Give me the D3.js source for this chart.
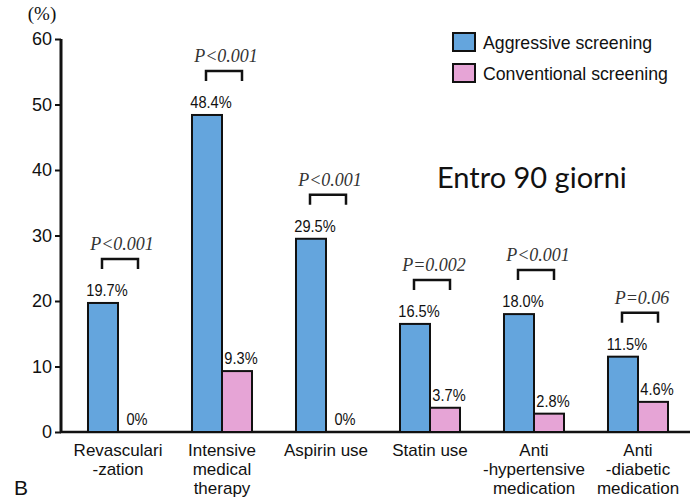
<!DOCTYPE html>
<html><head><meta charset="utf-8">
<script src="https://cdn.jsdelivr.net/npm/d3@7"></script>
<style>
body{margin:0;background:#fff;}
svg{display:block;font-family:"Liberation Sans",Arial,sans-serif;}
</style></head>
<body><svg id="c" width="690" height="499"></svg>
<script>
const categories = [
  ["Revasculari","-zation"],
  ["Intensive","medical","therapy"],
  ["Aspirin use"],
  ["Statin use"],
  ["Anti","-hypertensive","medication"],
  ["Anti","-diabetic","medication"]
];
const aggressive = [19.7, 48.4, 29.5, 16.5, 18.0, 11.5];
const conventional = [0, 9.3, 0, 3.7, 2.8, 4.6];
const aggressiveLabels = ["19.7%","48.4%","29.5%","16.5%","18.0%","11.5%"];
const conventionalLabels = ["0%","9.3%","0%","3.7%","2.8%","4.6%"];
const pValues = ["P<0.001","P<0.001","P<0.001","P=0.002","P<0.001","P=0.06"];
const seriesNames = ["Aggressive screening","Conventional screening"];
const yTicks = [0,10,20,30,40,50,60];

const colors = ["#64a5dd","#e6a4d6"];
const SANS = "'Liberation Sans', Arial, sans-serif";
const SERIF = "'Liberation Serif', 'Times New Roman', serif";
const svg = d3.select("#c");
const ids = categories.map((c,i)=>"c"+i);
const x = d3.scaleBand().domain(ids).range([66,690]).paddingInner(0.423).paddingOuter(0.2115);
const x1 = d3.scaleBand().domain([0,1]).range([0,x.bandwidth()]);
const y = d3.scaleLinear().domain([0,60]).range([432,39]);

// y axis
const ya = svg.append("g").attr("transform","translate(61,0)")
  .call(d3.axisLeft(y).tickValues(yTicks).tickSize(6).tickPadding(3));
ya.attr("font-family",null).attr("font-size",null);
ya.select(".domain").attr("stroke","#111").attr("stroke-width",3).attr("d","M0,433V39");
ya.selectAll(".tick line").attr("stroke","#111").attr("stroke-width",2);
ya.selectAll(".tick text").style("font-family",SANS).style("font-size","18px").attr("fill","#111");

// x axis line
svg.append("line").attr("x1",60).attr("x2",690).attr("y1",y(0)).attr("y2",y(0))
  .attr("stroke","#111").attr("stroke-width",2.5);

svg.append("text").attr("x",42).attr("y",20).attr("text-anchor","middle")
  .style("font-family",SERIF).style("font-size","19px").attr("fill","#111").text("(%)");

const data = ids.map((id,i)=>({id,vals:[aggressive[i],conventional[i]],labs:[aggressiveLabels[i],conventionalLabels[i]],p:pValues[i],cat:categories[i]}));

const g = svg.selectAll("g.grp").data(data).join("g").attr("class","grp")
  .attr("transform",d=>`translate(${x(d.id)},0)`);

g.selectAll("rect").data(d=>d.vals.map((v,k)=>({v,k}))).join("rect")
  .attr("x",d=>x1(d.k)).attr("width",x1.bandwidth())
  .attr("y",d=>y(d.v)).attr("height",d=>y(0)-y(d.v))
  .attr("fill",d=>colors[d.k]).attr("stroke","#111").attr("stroke-width",2);

g.selectAll("text.val").data(d=>d.vals.map((v,k)=>({v,k,l:d.labs[k]}))).join("text")
  .attr("class","val")
  .attr("transform",d=>`translate(${x1(d.k)+x1.bandwidth()/2+4},${y(d.v)-7}) scale(0.86,1)`)
  .attr("text-anchor","middle").style("font-family",SANS).style("font-size","17px").attr("fill","#111").text(d=>d.l);

// brackets
g.each(function(d){
  const top = y(Math.max(...d.vals)) - 44;
  const bx0 = x1(0)+x1.bandwidth()/2-1, bx1 = x1(1)+x1.bandwidth()/2+5;
  const s = d3.select(this);
  s.append("path").attr("d",`M${bx0},${top+10}V${top}H${bx1}V${top+10}`)
    .attr("fill","none").attr("stroke","#111").attr("stroke-width",2.5);
  s.append("text").attr("x",(bx0+bx1)/2+2).attr("y",top-9).attr("text-anchor","middle")
    .style("font-family",SERIF).style("font-style","italic")
    .style("font-size","18px").attr("fill","#333").text(d.p);
  s.append("text").attr("text-anchor","middle").style("font-family",SANS).style("font-size","17px").attr("fill","#111")
    .selectAll("tspan").data(d.cat).join("tspan")
    .attr("x",x.bandwidth()/2).attr("y",(t,i)=>456+i*19).text(t=>t);
});

// legend
const lg = svg.append("g");
seriesNames.forEach((n,i)=>{
  lg.append("rect").attr("x",453).attr("y",33+i*31).attr("width",22).attr("height",18)
    .attr("fill",colors[i]).attr("stroke","#111").attr("stroke-width",2);
  lg.append("text").attr("x",483).attr("y",49+i*31)
    .style("font-family",SANS).style("font-size","17.7px").attr("fill","#111").text(n);
});

svg.append("text").attr("x",437).attr("y",188).style("font-family","Lato, sans-serif")
  .style("font-size","29px").attr("fill","#111").text("Entro 90 giorni");

svg.append("text").attr("x",14).attr("y",495)
  .style("font-family",SANS).style("font-size","21px").attr("fill","#111").text("B");
</script></body></html>
